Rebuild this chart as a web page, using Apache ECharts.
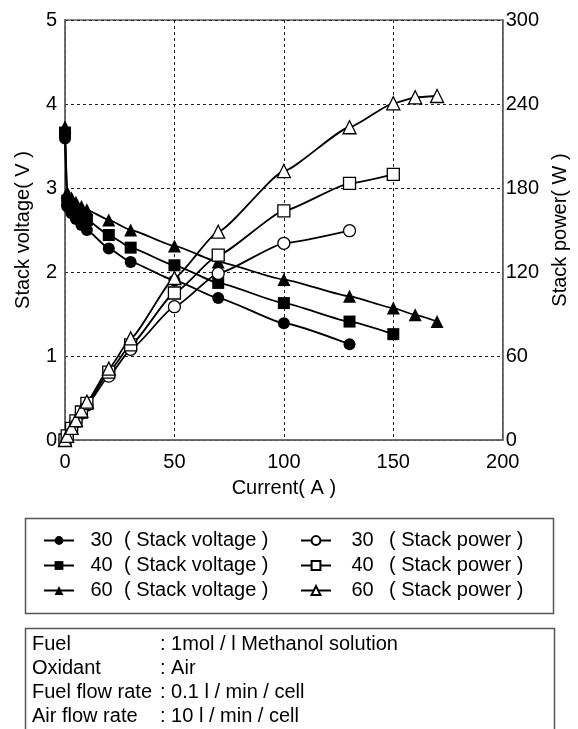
<!DOCTYPE html>
<html>
<head>
<meta charset="utf-8">
<script src="https://cdn.jsdelivr.net/npm/echarts@6/dist/echarts.min.js"></script>
<style>
  html, body { margin: 0; padding: 0; background: #fff; }
  #chart { width: 578px; height: 729px; }
</style>
</head>
<body>
<div id="chart"></div>
<script>
// current (A) for each condition
var current30 = [0, 1, 3, 5, 7.5, 10, 20, 30, 50, 70, 100, 130];
var current40 = [0, 1, 3, 5, 7.5, 10, 20, 30, 50, 70, 100, 130, 150];
var current60 = [0, 1, 3, 5, 7.5, 10, 20, 30, 50, 70, 100, 130, 150, 160, 170];

// stack voltage (V)
var voltage30 = [3.59, 2.78, 2.70, 2.63, 2.56, 2.50, 2.28, 2.12, 1.90, 1.69, 1.39, 1.14];
var voltage40 = [3.66, 2.85, 2.78, 2.72, 2.66, 2.62, 2.44, 2.29, 2.08, 1.87, 1.63, 1.41, 1.26];
var voltage60 = [3.73, 2.95, 2.88, 2.83, 2.78, 2.74, 2.62, 2.50, 2.31, 2.12, 1.91, 1.71, 1.57, 1.49, 1.41];

// stack power (W)
var power30 = [0, 2.8, 8.1, 13.2, 19.2, 25, 45.6, 64.8, 95.2, 119, 140.5, 149.5];
var power40 = [0, 2.9, 8.3, 13.6, 20, 26.2, 48.5, 68, 105, 132, 163.6, 183.3, 189.8];
var power60 = [0, 3, 8.6, 14.2, 20.9, 27.4, 51, 72.6, 115.7, 148.8, 192.1, 223.4, 240.5, 244.8, 245.7];

var infoLabels = ['Fuel', 'Oxidant', 'Fuel flow rate', 'Air flow rate'];
var infoValues = [': 1mol / l Methanol solution', ': Air', ': 0.1 l / min / cell', ': 10 l / min / cell'];

var FONT = '"Liberation Sans", Arial, sans-serif';
var FS = 20;

function pairs(xs, ys) {
  return xs.map(function (x, i) { return [x, ys[i]]; });
}

function makeSeries(name, xs, ys, symbol, hollow, axisIdx) {
  return {
    name: name,
    type: 'line',
    yAxisIndex: axisIdx,
    data: pairs(xs, ys),
    symbol: symbol,
    symbolSize: symbol === 'triangle' ? 13 : 12,
    smooth: 0.15,
    smoothMonotone: 'x',
    lineStyle: { color: '#000', width: 1.8 },
    itemStyle: {
      color: hollow ? '#fff' : '#000',
      borderColor: '#000',
      borderWidth: hollow ? 1.3 : 0
    },
    emphasis: { disabled: true },
    animation: false
  };
}

var gridDash = { color: '#222', width: 1, type: [3, 3] };

function legendFormatter(name) {
  var i = name.indexOf(' ');
  return '{n|' + name.slice(0, i) + '}{s|' + name.slice(i + 1) + '}';
}

var myChart = echarts.init(document.getElementById('chart'));

var infoGraphics = [];
infoLabels.forEach(function (lab, i) {
  infoGraphics.push({
    type: 'text', left: 32, top: 634 + i * 24,
    style: { text: lab, font: FS + 'px ' + FONT, fill: '#000' }
  });
  infoGraphics.push({
    type: 'text', left: 160, top: 634 + i * 24,
    style: { text: infoValues[i], font: FS + 'px ' + FONT, fill: '#000' }
  });
});

var option = {
  backgroundColor: '#fff',
  textStyle: { fontFamily: FONT },
  grid: {
    left: 65, right: 75, top: 20, bottom: 289,
    show: true, borderColor: '#666', borderWidth: 1.5
  },
  xAxis: {
    type: 'value', min: 0, max: 200, interval: 50,
    name: 'Current( A )', nameLocation: 'middle', nameGap: 38,
    nameTextStyle: { fontSize: FS, color: '#000' },
    axisLine: { show: true, lineStyle: { color: '#666', width: 1.5 } },
    axisTick: { show: false },
    axisLabel: { fontSize: FS, color: '#000', margin: 12 },
    splitLine: { show: true, lineStyle: gridDash }
  },
  yAxis: [{
    type: 'value', min: 0, max: 5, interval: 1,
    name: 'Stack voltage( V )', nameLocation: 'middle', nameGap: 32,
    nameTextStyle: { fontSize: FS, color: '#000' },
    axisLine: { show: true, lineStyle: { color: '#666', width: 1.5 } },
    axisTick: { show: false },
    axisLabel: { fontSize: FS, color: '#000', margin: 8 },
    splitLine: { show: true, lineStyle: gridDash }
  }, {
    type: 'value', min: 0, max: 300, interval: 60, position: 'right',
    name: 'Stack power( W )', nameLocation: 'middle', nameGap: 47,
    nameTextStyle: { fontSize: FS, color: '#000' },
    axisLine: { show: true, lineStyle: { color: '#666', width: 1.5 } },
    axisTick: { show: false },
    axisLabel: { fontSize: FS, color: '#000', margin: 3 },
    splitLine: { show: false }
  }],
  legend: [{
    orient: 'vertical', left: 43, top: 528, padding: 0, itemGap: 0,
    itemWidth: 30, itemHeight: 11,
    data: ['30 ( Stack voltage )', '40 ( Stack voltage )', '60 ( Stack voltage )'],
    formatter: legendFormatter,
    selectedMode: false,
    textStyle: {
      fontSize: FS, color: '#000', lineHeight: 25,
      rich: { n: { fontSize: FS, width: 45, align: 'center' }, s: { fontSize: FS } }
    }
  }, {
    orient: 'vertical', left: 300, top: 528, padding: 0, itemGap: 0,
    itemWidth: 30, itemHeight: 11,
    data: ['30 ( Stack power )', '40 ( Stack power )', '60 ( Stack power )'],
    formatter: legendFormatter,
    selectedMode: false,
    textStyle: {
      fontSize: FS, color: '#000', lineHeight: 25,
      rich: { n: { fontSize: FS, width: 53, align: 'center' }, s: { fontSize: FS } }
    }
  }],
  graphic: [{
    type: 'rect', left: 23, top: 516,
    shape: { width: 528, height: 95 },
    style: { fill: 'none', stroke: '#555', lineWidth: 1.5 }
  }, {
    type: 'rect', left: 23, top: 626,
    shape: { width: 529, height: 115 },
    style: { fill: 'none', stroke: '#555', lineWidth: 1.5 }
  }].concat(infoGraphics),
  series: [
    makeSeries('30 ( Stack voltage )', current30, voltage30, 'circle', false, 0),
    makeSeries('40 ( Stack voltage )', current40, voltage40, 'rect', false, 0),
    makeSeries('60 ( Stack voltage )', current60, voltage60, 'triangle', false, 0),
    makeSeries('30 ( Stack power )', current30, power30, 'circle', true, 1),
    makeSeries('40 ( Stack power )', current40, power40, 'rect', true, 1),
    makeSeries('60 ( Stack power )', current60, power60, 'triangle', true, 1)
  ]
};

myChart.setOption(option);
</script>
</body>
</html>
